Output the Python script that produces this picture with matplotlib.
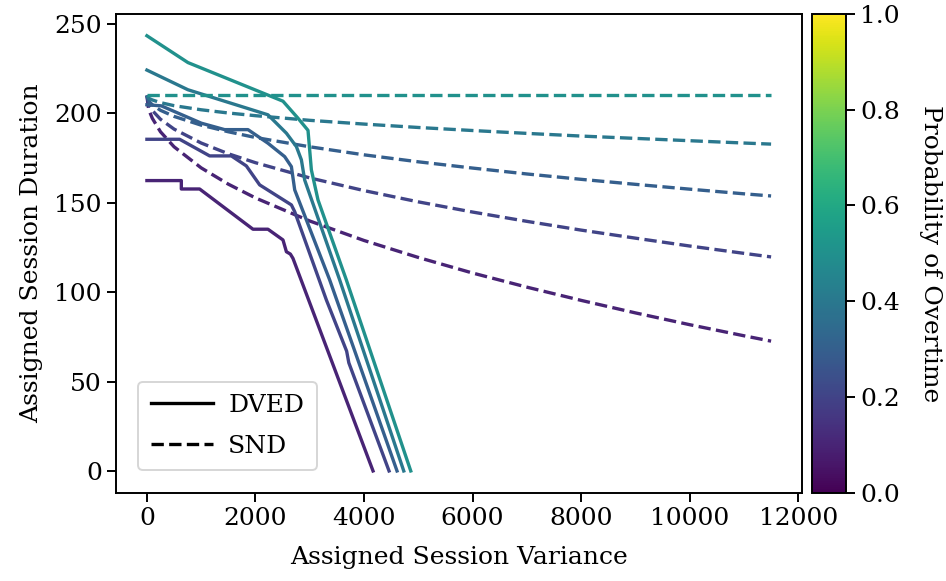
import numpy as np
import matplotlib
matplotlib.use('Agg')
import matplotlib.pyplot as plt
from matplotlib import cm, colors

plt.rcParams['font.family'] = ['DejaVu Serif']
plt.rcParams['font.size'] = 18

probs = [0.1, 0.2, 0.3, 0.4, 0.5]

# DVED curves (variance, duration)
dved_var_p10 = [0, 634, 634, 971, 1954, 2230, 2507, 2570, 2643, 2691, 4166]
dved_dur_p10 = [162.4, 162.4, 157.7, 157.7, 135.2, 135.2, 129.2, 122.6, 121.3, 118.9, 0]
dved_var_p20 = [0, 603, 1156, 1556, 1832, 2077, 2662, 2723, 3307, 3680, 3720, 4461]
dved_dur_p20 = [185.5, 185.5, 176.2, 176.2, 170.6, 160.0, 148.8, 145.0, 95.6, 67.0, 60.5, 0]
dved_var_p30 = [0, 265, 1003, 1432, 1862, 2230, 2538, 2662, 2723, 3368, 4608]
dved_dur_p30 = [204.8, 204.2, 194.5, 190.9, 190.9, 183.3, 175.8, 170.2, 157.2, 106.8, 0]
dved_var_p40 = [0, 756, 2230, 2570, 2754, 2846, 2907, 3552, 4732]
dved_dur_p40 = [224.2, 213.2, 199.2, 188.9, 181.4, 174.0, 162.7, 106.8, 0]
dved_var_p50 = [0, 756, 2507, 2783, 2968, 3030, 3152, 3675, 4861]
dved_dur_p50 = [243.4, 228.4, 206.8, 197.3, 190.5, 168.4, 151.6, 106.8, 0]

# SND curves
snd_var = [0, 25, 50, 100, 250, 500, 1000, 1500, 2000, 3000, 4000, 5000,
           6000, 7000, 8000, 9000, 10000, 11000, 11500]
snd_dur_p10 = [210, 203.6, 200.9, 197.2, 189.7, 181.3, 169.5, 160.4, 152.7, 139.8, 128.9,
               119.4, 110.7, 102.8, 95.4, 88.4, 81.8, 75.6, 72.6]
snd_dur_p20 = [210, 205.8, 204.0, 201.6, 196.7, 191.2, 183.4, 177.4, 172.4, 163.9, 156.8,
               150.5, 144.8, 139.6, 134.7, 130.2, 125.8, 121.7, 119.7]
snd_dur_p30 = [210, 207.4, 206.3, 204.8, 201.7, 198.3, 193.4, 189.7, 186.5, 181.3, 176.8,
               172.9, 169.4, 166.1, 163.1, 160.3, 157.6, 155.0, 153.8]
snd_dur_p40 = [210, 208.7, 208.2, 207.5, 206.0, 204.3, 202.0, 200.2, 198.7, 196.1, 194.0,
               192.1, 190.4, 188.8, 187.3, 186.0, 184.7, 183.4, 182.8]
snd_dur_p50 = [210] * len(snd_var)

dved = [(dved_var_p10, dved_dur_p10), (dved_var_p20, dved_dur_p20),
        (dved_var_p30, dved_dur_p30), (dved_var_p40, dved_dur_p40),
        (dved_var_p50, dved_dur_p50)]
snd = [snd_dur_p10, snd_dur_p20, snd_dur_p30, snd_dur_p40, snd_dur_p50]

cmap = plt.get_cmap('viridis')
norm = colors.Normalize(0, 1)

fig = plt.figure(figsize=(9.46, 5.81), dpi=100)
ax = fig.add_axes([115.7/946, 1-492.7/581, (802.3-115.7)/946, (492.7-14)/581])
cax = fig.add_axes([811.7/946, 1-492.7/581, (846.3-811.7)/946, (492.7-14)/581])

lw = 2.4
for p, (vx, vy), sy in zip(probs, dved, snd):
    c = cmap(norm(p))
    ax.plot(vx, vy, color=c, lw=lw, ls='-')
    ax.plot(snd_var, sy, color=c, lw=lw, ls='--')

ax.plot([], [], color='black', lw=lw, ls='-', label='DVED')
ax.plot([], [], color='black', lw=lw, ls='--', label='SND')
leg = ax.legend(loc='lower left', fontsize=18, handlelength=2.5, handletextpad=0.6,
                labelspacing=0.7, borderpad=0.5, borderaxespad=0.9)
leg.get_frame().set_linewidth(1.4)

ax.set_xticks([0, 2000, 4000, 6000, 8000, 10000, 12000])
ax.set_yticks([0, 50, 100, 150, 200, 250])
ax.set_xlabel('Assigned Session Variance', labelpad=12)
ax.set_ylabel('Assigned Session Duration', labelpad=8)
ax.tick_params(length=6.5, width=1.4)
for s in ax.spines.values():
    s.set_linewidth(1.4)

sm = cm.ScalarMappable(norm=norm, cmap=cmap)
cb = fig.colorbar(sm, cax=cax)
cb.set_ticks([0, 0.2, 0.4, 0.6, 0.8, 1.0])
cb.set_label('Probability of Overtime', rotation=270, labelpad=30)
cb.outline.set_linewidth(1.4)
cax.tick_params(length=6.5, width=1.4)

fig.savefig('out.png', dpi=100)
